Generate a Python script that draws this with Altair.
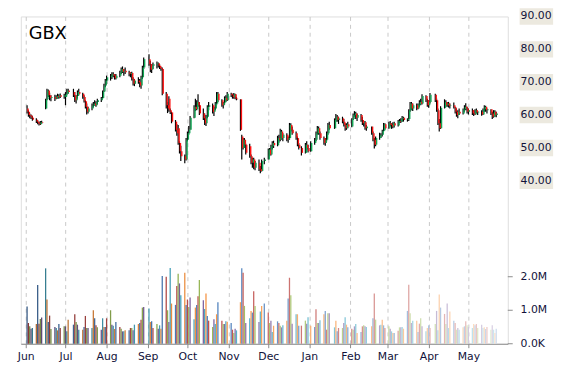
import altair as alt
import pandas as pd

# ---------------- data ----------------
holidays = ["2014-07-04", "2014-09-01", "2014-11-27", "2014-12-25",
            "2015-01-01", "2015-01-19", "2015-02-16", "2015-04-03"]

opens = [
    62, 61, 60, 59.8, 59.2,
    58.6, 58, 57.5, 57.2, 57.8,
    62, 64.8, 67.5, 66, 65.2,
    65.5, 65, 65.8, 65.5, 66,
    65.6, 65.5, 66.5, 67.5,
    67, 66, 64.5, 65.8, 67,
    66.5, 65.5, 64.2, 62.5, 61,
    62, 62.8, 63.5, 63, 64,
    64.5, 65.2, 67.2, 69, 70.5,
    71.5, 72, 72.5, 72, 71.2,
    72, 73, 74, 73.2, 73.5,
    73, 72.5, 72.8, 71, 69.5,
    70.5, 70, 69, 71.5, 74.5,
    77, 75.5, 73.8, 75,
    75.5, 75.8, 75, 74.3, 74,
    66.5, 63, 65, 61.5, 60.8,
    58, 55.5, 56, 51.5, 49,
    47.5, 46.5, 52.5, 54.5, 55.5,
    59.2, 62.5, 61.8, 64, 63,
    60.5, 59, 57.5, 59.5, 62.5,
    63, 61, 62, 63.5, 66.5,
    64.5, 63, 63.8, 65.2, 64.5,
    66.5, 66, 65.5, 66.3, 65,
    64.8, 53.5, 50, 52.5, 51,
    50.5, 47.5, 45.5, 46.5, 44,
    45.5, 43.5, 43, 46,
    46.5, 49.5, 48, 50.5, 51.5,
    50.8, 53, 52.5, 55, 53,
    54, 52.5, 53, 57, 55.5,
    54.5, 53, 51, 50,
    48.5, 51, 50, 49,
    51.5, 52.5, 54.5, 56, 54.5,
    53, 51.5, 52.5, 54.5, 57,
    56, 58.5, 59.5, 58.5,
    59, 58, 57, 56, 57.2,
    56.5, 58.8, 60, 60.5, 59.2,
    60, 58.5, 57.5, 57.8, 56,
    56.5, 54.5, 52.5, 51,
    53, 53.8, 54, 55.2, 57.2,
    56, 57.5, 57, 56.5, 57.5,
    56.8, 58.2, 58, 58.8, 59.2,
    58.5, 58.8, 61.5, 63.5, 62,
    63, 62, 63.2, 64, 63.5,
    65.8, 64.5, 63, 64,
    66.2, 64.5, 61.5, 57.5, 56,
    62.2, 64, 63, 63.5, 62.8,
    63, 62.3, 61, 60, 61,
    60.5, 61.8, 62.5, 62, 61,
    61.5, 60.5, 60.2, 61.5, 60.8,
    61, 60.2, 61.8, 62.5, 61.5,
    61.8, 60.5, 59.5, 61, 60,
]
highs = [
    63, 61.5, 60.5, 60.2, 59.8,
    59, 58.5, 58, 58.2, 58.3,
    65, 68, 67.8, 66.8, 66,
    66.2, 66, 66.5, 66.3, 66.6,
    66.5, 67, 68, 68,
    68, 67, 66, 67.5, 68,
    66.8, 66, 64.5, 63.5, 62.5,
    63.5, 64, 64.5, 64.2, 65,
    65.5, 67.5, 69.5, 71, 72,
    72.5, 73, 73, 72.5, 72.5,
    73.5, 74.5, 74.8, 74, 74.5,
    73.5, 73, 73.2, 71.5, 71,
    71.5, 71, 72, 75, 77.5,
    78.5, 76.5, 75.5, 76,
    76.3, 76, 75.5, 74.7, 74.5,
    67, 64, 65.7, 62, 61,
    58.5, 57.3, 57, 52, 50.7,
    48, 53, 55, 56.7, 59.7,
    63, 65, 64.5, 66.3, 64,
    62, 60.5, 60, 63, 64,
    63.5, 62.5, 64, 67, 67,
    64.8, 64, 65.7, 66, 67,
    66.8, 66.5, 66.7, 66.5, 65.5,
    64.8, 54, 53, 53, 51.3,
    51.3, 48, 47, 47, 46,
    46.5, 44.5, 46.5, 47,
    49.8, 50, 51, 52, 52.2,
    53.7, 54, 55.8, 55.5, 54.5,
    54.5, 53.5, 57.6, 57.5, 56.5,
    55, 53.5, 51.5, 50.5,
    51.5, 52, 51, 52,
    53, 55, 56.7, 56.5, 55,
    53.5, 53, 55, 57.6, 58,
    59, 60.3, 60, 59.5,
    59.5, 58.8, 57.5, 57.5, 58,
    59, 60.5, 61.2, 61, 60.5,
    60.3, 59.5, 58.2, 58.2, 57,
    56.5, 55, 53, 53.5,
    54.6, 54.5, 55.5, 57.6, 57.5,
    58, 58.2, 57.5, 57.8, 58,
    58.5, 58.8, 59, 59.7, 59.5,
    59, 61.8, 64, 64, 63.5,
    63.5, 63.5, 64.5, 65, 66.3,
    66, 65, 64.5, 66.7,
    66.5, 65, 62, 58.8, 62.7,
    64.8, 64.5, 64, 64, 63.5,
    63.8, 62.5, 62, 61.5, 62,
    62, 63, 63.6, 62.5, 62,
    62, 61.5, 61.8, 62, 61.2,
    61.5, 62, 63, 62.8, 62,
    61.8, 61, 61.5, 61.5, 61,
]
lows = [
    60.5, 59.5, 59, 58.8, 58.3,
    57.6, 57.2, 56.8, 57, 57.3,
    61.8, 64.5, 65.5, 64.5, 64.2,
    64.3, 64.8, 65, 65, 65.2,
    65, 63, 66, 66.5,
    65.5, 64, 63.5, 65, 66,
    65, 63.8, 62, 60.2, 60.5,
    61.5, 62.3, 62.8, 62.5, 63.2,
    64, 65, 67, 68.5, 69.5,
    70.5, 71, 71.5, 70.8, 70.8,
    71.5, 72.5, 72.8, 72, 72.5,
    71.8, 71.5, 70.5, 69, 68.8,
    69.5, 68.5, 68, 71, 74,
    75, 73, 72.8, 74,
    74.2, 74.5, 74, 73.5, 66,
    62, 60.6, 61, 60.3, 57.5,
    55, 53.7, 51, 48.3, 46,
    45.3, 46.2, 52, 54, 55.5,
    59, 61.2, 61.5, 62.5, 60,
    58.5, 57, 56.7, 59, 61.5,
    60.5, 59.7, 61.5, 63, 64,
    62.5, 62, 63.2, 64, 64.3,
    65.5, 65, 65, 64.8, 64.5,
    55.2, 46.5, 49.5, 50, 48,
    47, 45, 44, 43.5, 43.2,
    43, 42.3, 42.8, 45,
    46.5, 47.5, 47.7, 49.5, 50,
    50.5, 51.6, 52, 52.5, 52,
    52, 51.6, 52.5, 55, 54,
    52.5, 50.5, 49.5, 47.7,
    48.3, 49.5, 48.6, 48.8,
    51, 52, 54, 54, 52.5,
    51, 50.7, 52, 54, 55.5,
    55.8, 58, 58, 57.3,
    57.5, 56.5, 55.2, 55.5, 56,
    56.3, 58.5, 59.5, 58.8, 58.2,
    58, 57, 56.5, 55.5, 55.2,
    54, 52, 49.8, 50.5,
    52.5, 53, 53.5, 55, 55.5,
    55.8, 56.5, 55.8, 56, 56.2,
    56.5, 57.6, 57.6, 58, 58,
    58, 58.2, 61, 61.5, 61.2,
    61.5, 61.8, 62.5, 63, 63.2,
    64, 62.5, 62.2, 63.5,
    64, 61, 57, 55, 55.8,
    62, 62.5, 62.5, 62.3, 62,
    62, 60.5, 59.5, 59, 60,
    60.2, 61, 61.5, 60.5, 60.2,
    60, 59.7, 60, 60.5, 60,
    59.8, 60, 61, 61, 60.5,
    60, 58.8, 59.2, 59.5, 59.3,
]
closes = [
    61, 60, 59.8, 59.2, 58.6,
    58, 57.5, 57.2, 57.8, 57.6,
    64.8, 67.5, 66, 65.2, 65.5,
    65, 65.8, 65.5, 66, 65.6,
    66, 66.5, 67.5, 67,
    66, 64.5, 65.8, 67, 66.5,
    65.5, 64.2, 62.5, 61, 62,
    62.8, 63.5, 63, 64, 64.5,
    65.2, 67.2, 69, 70.5, 71.5,
    72, 72.5, 72, 71.2, 72,
    73, 74, 73.2, 73.5, 73,
    72.5, 72.8, 71, 69.5, 70.5,
    70, 69, 71.5, 74.5, 77,
    75.5, 73.8, 75, 75.5,
    75.8, 75, 74.3, 74, 66.5,
    63, 62, 61.5, 60.8, 58,
    55.5, 54.5, 51.5, 49, 47.5,
    46.5, 52.5, 54.5, 55.5, 59.2,
    62.5, 61.8, 64, 63, 60.5,
    59, 57.5, 59.5, 62.5, 63,
    61, 62, 63.5, 66.5, 64.5,
    63, 63.8, 65.2, 64.5, 66.5,
    66, 65.5, 66.3, 65, 64.8,
    55.5, 50, 52.5, 51, 48.5,
    47.5, 45.5, 46.5, 44, 45.5,
    43.5, 43, 46, 46.5,
    49.5, 48, 50.5, 51.5, 50.8,
    53, 52.5, 55, 53, 54,
    52.5, 53, 57, 55.5, 54.5,
    53, 51, 50, 48.5,
    51, 50, 49, 51.5,
    52.5, 54.5, 56, 54.5, 53,
    51.5, 52.5, 54.5, 57, 56,
    58.5, 59.5, 58.5, 59,
    58, 57, 56, 57.2, 56.5,
    58.8, 60, 60.5, 59.2, 60,
    58.5, 57.5, 57.8, 56, 56.5,
    54.5, 52.5, 51, 53,
    53.8, 54, 55.2, 57.2, 56,
    57.5, 57, 56.5, 57.5, 56.8,
    58.2, 58, 58.8, 59.2, 58.5,
    58.8, 61.5, 63.5, 62, 63,
    62, 63.2, 64, 63.5, 65.8,
    64.5, 63, 64, 66.2,
    64.5, 61.5, 57.5, 56, 62.2,
    64, 63, 63.5, 62.8, 63,
    62.3, 61, 60, 61, 60.5,
    61.8, 62.5, 62, 61, 61.5,
    60.5, 60.2, 61.5, 60.8, 61,
    60.2, 61.8, 62.5, 61.5, 61.8,
    60.5, 59.5, 61, 60, 60.5,
]
volumes_m = [
    1.11, 0.62, 0.52, 0.45, 0.47,
    0.59, 1.75, 0.60, 0.74, 0.78,
    2.25, 1.32, 0.65, 0.84, 0.44,
    0.50, 0.47, 0.40, 0.59, 0.47,
    0.52, 0.52, 0.37, 0.72,
    0.57, 0.88, 0.65, 0.57, 0.42,
    0.42, 0.50, 0.83, 0.47, 0.47,
    0.47, 1.00, 0.76, 0.55, 0.49,
    0.42, 0.76, 0.50, 0.50, 0.76,
    1.00, 0.57, 0.54, 0.44, 0.65,
    0.50, 0.45, 0.37, 0.37, 0.40,
    0.40, 0.47, 0.47, 0.40, 0.57,
    0.59, 0.62, 0.72, 1.08, 1.10,
    1.05, 0.65, 0.67, 0.47,
    0.59, 0.45, 0.55, 0.45, 2.02,
    2.00, 1.00, 0.65, 2.26, 1.20,
    1.16, 1.72, 2.09, 1.80, 1.45,
    2.12, 1.16, 1.32, 1.10, 1.38,
    0.73, 1.08, 1.16, 1.42, 1.90,
    1.30, 1.04, 1.50, 0.83, 0.69,
    0.50, 0.73, 0.59, 0.88, 1.24,
    0.69, 0.59, 0.59, 0.67, 0.66,
    0.62, 0.42, 0.32, 0.45, 0.40,
    1.24, 2.25, 2.12, 1.13, 0.62,
    0.76, 0.98, 0.93, 1.57, 1.13,
    0.65, 0.96, 1.13, 1.20,
    0.93, 0.62, 0.69, 0.35, 0.54,
    0.67, 0.62, 0.54, 0.49, 0.55,
    0.69, 1.35, 1.97, 1.45, 0.60,
    0.88, 0.88, 0.54, 0.54,
    0.69, 0.60, 0.79, 0.54,
    0.50, 1.03, 0.62, 0.62, 0.70,
    0.88, 0.98, 0.42, 0.91, 0.91,
    0.49, 0.69, 0.37, 0.47,
    0.47, 0.62, 0.79, 0.57, 0.49,
    0.45, 0.42, 0.52, 0.59, 0.32,
    0.35, 0.52, 0.55, 0.52, 0.50,
    0.52, 0.76, 1.50, 0.72,
    0.55, 0.57, 0.72, 0.55, 0.47,
    0.52, 0.45, 0.37, 0.32, 0.32,
    0.39, 0.49, 0.49, 0.50, 0.45,
    0.98, 1.76, 0.91, 0.62, 0.69,
    0.69, 0.35, 0.60, 0.76, 0.52,
    0.37, 0.47, 0.55, 0.47,
    0.59, 0.98, 0.40, 1.47, 1.08,
    0.89, 0.59, 1.20, 0.47, 0.96,
    0.69, 0.62, 0.42, 0.47, 0.42,
    0.49, 0.52, 0.67, 0.55, 0.50,
    0.47, 0.59, 0.55, 0.59, 0.47,
    0.57, 0.47, 0.49, 0.44, 0.50,
    0.42, 0.55, 0.42, 0.32, 0.45,
]

price_ticks = [20, 30, 40, 50, 60, 70, 80, 90]
price_labels = ["", "", "40.00", "50.00", "60.00", "70.00", "80.00", "90.00"]
volume_ticks = [0, 1, 2]
volume_labels = ["0.0K", "1.0M", "2.0M"]
month_starts = [(2014, m) for m in range(6, 13)] + [(2015, m) for m in range(1, 6)]
ticker = "GBX"

# ---------------- build tables ----------------
days = pd.bdate_range("2014-06-02", "2015-05-22")
days = days[~days.isin(pd.to_datetime(holidays))]
n = len(days)
assert n == len(opens) == len(highs) == len(lows) == len(closes) == len(volumes_m), (
    n, len(opens), len(highs), len(lows), len(closes), len(volumes_m))

palette = ["#4F81BD", "#C0504D", "#9BBB59", "#8064A2", "#4BACC6", "#F79646"]


def shade(hexcol, t):
    r, g, b = (int(hexcol[i:i + 2], 16) for i in (1, 3, 5))
    if t < 0.4:
        k = 0.3 * (1 - t / 0.4)
        r, g, b = (v * (1 - k) for v in (r, g, b))
    else:
        k = 0.72 * ((t - 0.4) / 0.6)
        r, g, b = (v + (255 - v) * k for v in (r, g, b))
    return "#%02x%02x%02x" % (int(round(r)), int(round(g)), int(round(b)))


df = pd.DataFrame({
    "date": [d.strftime("%Y-%m-%dT00:00:00") for d in days],
    "open": opens, "high": highs, "low": lows, "close": closes,
    "vol": volumes_m,
})
df["dir"] = ["up" if c >= o else "down" for o, c in zip(opens, closes)]
df["vcol"] = [shade(palette[i % 6], i / (n - 1)) for i in range(n)]

ptick_df = pd.DataFrame({"v": price_ticks, "label": price_labels})
ptick_df["lo"] = ptick_df["v"] - 2.5
ptick_df["hi"] = ptick_df["v"] + 2.5
plabel_df = ptick_df[ptick_df["label"] != ""]
vtick_df = pd.DataFrame({"v": volume_ticks, "label": volume_labels})
title_df = pd.DataFrame({"t": [ticker]})

# ---------------- chart ----------------
W, H = 494, 332
FONT = "DejaVu Sans"
LABEL_COLOR = "#12123a"
AXIS_GRAY = "#8a8a8a"

xscale = alt.Scale(domain=[alt.DateTime(year=2014, month=6, date=1),
                           alt.DateTime(year=2015, month=5, date=27)])
xaxis = alt.Axis(values=[alt.DateTime(year=y, month=m, date=1) for y, m in month_starts],
                 format="%b", title=None, grid=True, gridDash=[4, 4],
                 gridColor="#c8c8c8", gridWidth=1, domainColor=AXIS_GRAY,
                 tickColor=AXIS_GRAY, tickSize=4, labelFont=FONT, labelFontSize=11,
                 labelColor=LABEL_COLOR, labelPadding=3, labelFlush=False)
x = alt.X("date:T", scale=xscale, axis=xaxis)

pscale = alt.Scale(domain=[-9.6, 90], nice=False, zero=False)
vscale = alt.Scale(domain=[0, 9.765], nice=False, zero=True)

# volume layer
vol_bars = alt.Chart(df).mark_bar(width=1.3).encode(
    x=x,
    y=alt.Y("vol:Q", scale=vscale, axis=None),
    color=alt.Color("vcol:N", scale=None),
)
vol_ticks = alt.Chart(vtick_df).mark_rule(color=AXIS_GRAY).encode(
    y=alt.Y("v:Q", scale=vscale, axis=None),
    x=alt.value(W), x2=alt.value(W + 5),
)
vol_text = alt.Chart(vtick_df).mark_text(
    align="left", baseline="middle", font=FONT, fontSize=11, color=LABEL_COLOR
).encode(
    y=alt.Y("v:Q", scale=vscale, axis=None),
    x=alt.value(W + 13),
    text="label:N",
)
volume_layer = alt.layer(vol_bars, vol_ticks, vol_text)

# price layer
paxis = alt.Axis(orient="right", values=price_ticks, labels=False, title=None,
                 grid=True, gridDash=[4, 4], gridColor="#c8c8c8", gridWidth=1,
                 domainColor=AXIS_GRAY, tickColor=AXIS_GRAY, tickSize=5)
wicks = alt.Chart(df).mark_rule(color="black", strokeWidth=1.2).encode(
    x=x,
    y=alt.Y("low:Q", scale=pscale, axis=paxis),
    y2="high:Q",
)
bodies = alt.Chart(df).mark_bar(width=1.4, xOffset=1.0).encode(
    x=x,
    y=alt.Y("open:Q", scale=pscale, axis=None),
    y2="close:Q",
    color=alt.Color("dir:N", scale=alt.Scale(domain=["up", "down"],
                                             range=["#10a855", "#ff1010"]),
                    legend=None),
)
label_bg = alt.Chart(plabel_df).mark_rect(color="#ECE9DF").encode(
    y=alt.Y("lo:Q", scale=pscale, axis=None),
    y2="hi:Q",
    x=alt.value(W + 12), x2=alt.value(W + 46),
)
label_txt = alt.Chart(plabel_df).mark_text(
    align="left", baseline="middle", font=FONT, fontSize=11, color=LABEL_COLOR
).encode(
    y=alt.Y("v:Q", scale=pscale, axis=None),
    x=alt.value(W + 13),
    text="label:N",
)
title_txt = alt.Chart(title_df).mark_text(
    align="left", baseline="alphabetic", font=FONT, fontSize=18, color="black"
).encode(
    x=alt.value(8), y=alt.value(23), text="t:N",
)
price_layer = alt.layer(wicks, bodies, label_bg, label_txt, title_txt)

chart = alt.layer(volume_layer, price_layer).resolve_scale(
    y="independent"
).properties(
    width=W, height=H,
    padding={"left": 13, "top": 6, "right": 55, "bottom": 24},
    autosize=alt.AutoSizeParams(type="none"),
).configure_view(stroke=None).configure(background="white")

chart.save("out.html", embed_options={"renderer": "svg", "actions": False})
